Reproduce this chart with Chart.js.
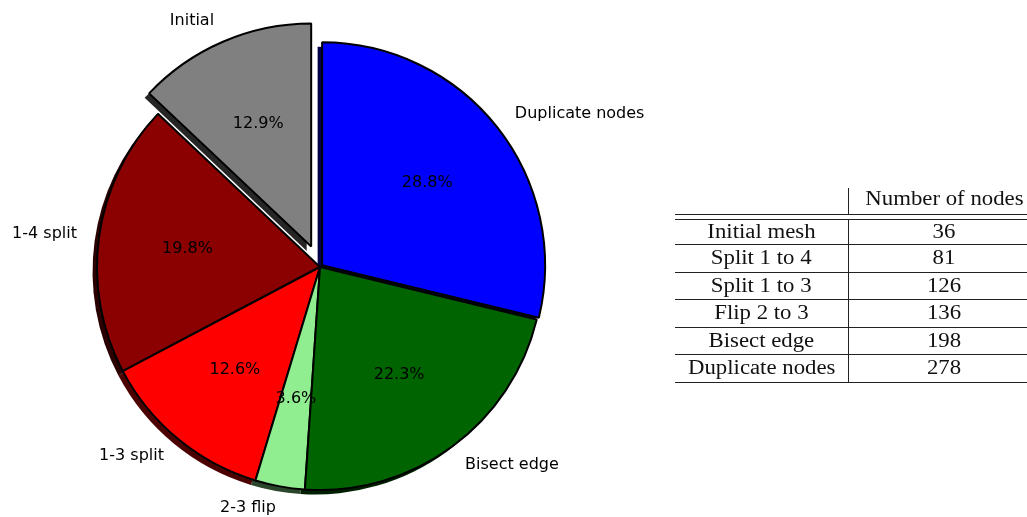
<!DOCTYPE html>
<html>
<head>
<meta charset="utf-8">
<script src="https://cdn.jsdelivr.net/npm/chart.js@4.4.1/dist/chart.umd.min.js"></script>
<style>
  html, body { margin: 0; padding: 0; background: #fff; width: 1027px; height: 517px; overflow: hidden; }
  #pieBox { position: absolute; left: 0; top: 0; width: 1027px; height: 517px; }
  #nodeTable { position: absolute; left: 0; top: 0; width: 1027px; height: 517px; overflow: hidden;
               font-family: "Liberation Serif", serif; color: #111; }
  .rule { position: absolute; height: 1px; background: #222; }
  .vrule { position: absolute; width: 1px; background: #222; }
  .cell { position: absolute; height: 26px; line-height: 26px; text-align: center; font-size: 20px; white-space: nowrap; }
  .cell span { display: inline-block; transform: scaleX(1.14); }
</style>
</head>
<body>
<div id="pieBox"><canvas id="pie"></canvas></div>
<div id="nodeTable"></div>
<script>
// Nodes added by each refinement stage (pie slices, counter-clockwise from 12 o'clock)
const categories = ['Initial', '1-4 split', '1-3 split', '2-3 flip', 'Bisect edge', 'Duplicate nodes'];
const nodeCounts = [36, 55, 35, 10, 62, 80];
const sliceColors = ['#808080', '#8b0000', '#ff0000', '#90ee90', '#006400', '#0000ff'];
const explodeFractions = [0.1, 0, 0, 0, 0, 0.012];

// Cumulative node counts table
const tableHeader = 'Number of nodes';
const tableRows = ['Initial mesh', 'Split 1 to 4', 'Split 1 to 3', 'Flip 2 to 3', 'Bisect edge', 'Duplicate nodes'];
const tableNodes = [36, 81, 126, 136, 198, 278];

// Chart.js sweeps clockwise, so feed the slices in reverse order
const order = categories.map((_, i) => categories.length - 1 - i);
const total = nodeCounts.reduce((a, b) => a + b, 0);

function shadowColor(hex) {
  const n = parseInt(hex.slice(1), 16);
  const r = Math.round(((n >> 16) & 255) * 0.3);
  const g = Math.round(((n >> 8) & 255) * 0.3);
  const b = Math.round((n & 255) * 0.3);
  return `rgb(${r},${g},${b})`;
}

function explodeShift(arc, dist) {
  const mid = (arc.startAngle + arc.endAngle) / 2;
  return [Math.cos(mid) * dist, Math.sin(mid) * dist];
}

const pieDecor = {
  id: 'pieDecor',
  beforeDatasetDraw(chart, args) {
    const ctx = chart.ctx;
    const arcs = args.meta.data;
    const r = arcs[0].outerRadius;
    const sh = 0.02 * r;
    // drop shadows, below every wedge
    arcs.forEach((arc, i) => {
      const k = order[i];
      const [dx, dy] = explodeShift(arc, explodeFractions[k] * r);
      const cx = arc.x + dx - sh, cy = arc.y + dy + sh;
      ctx.save();
      ctx.fillStyle = shadowColor(sliceColors[k]);
      ctx.beginPath();
      ctx.moveTo(cx, cy);
      ctx.arc(cx, cy, arc.outerRadius, arc.startAngle, arc.endAngle);
      ctx.closePath();
      ctx.fill();
      ctx.restore();
    });
    // wedges, pulled out along their mid angle
    for (let i = arcs.length - 1; i >= 0; i--) {
      const arc = arcs[i];
      const [dx, dy] = explodeShift(arc, explodeFractions[order[i]] * r);
      ctx.save();
      ctx.translate(dx, dy);
      arc.draw(ctx);
      ctx.restore();
    }
    return false;
  },
  afterDatasetsDraw(chart) {
    const ctx = chart.ctx;
    const arcs = chart.getDatasetMeta(0).data;
    const r = arcs[0].outerRadius;
    ctx.save();
    ctx.font = '16px "DejaVu Sans"';
    ctx.fillStyle = '#000';
    ctx.textBaseline = 'middle';
    arcs.forEach((arc, i) => {
      const k = order[i];
      const mid = (arc.startAngle + arc.endAngle) / 2;
      const [dx, dy] = explodeShift(arc, explodeFractions[k] * r);
      const cx = arc.x + dx, cy = arc.y + dy;
      // category label outside the rim
      const lx = cx + Math.cos(mid) * r * 1.1;
      const ly = cy + Math.sin(mid) * r * 1.1;
      ctx.textAlign = Math.cos(mid) > 0 ? 'left' : 'right';
      ctx.fillText(categories[k], lx, ly);
      // percentage inside the wedge
      const px = cx + Math.cos(mid) * r * 0.6;
      const py = cy + Math.sin(mid) * r * 0.6;
      ctx.textAlign = 'center';
      ctx.fillText((nodeCounts[k] / total * 100).toFixed(1) + '%', px, py);
    });
    ctx.restore();
  }
};

new Chart(document.getElementById('pie'), {
  type: 'pie',
  data: {
    labels: order.map(k => categories[k]),
    datasets: [{
      data: order.map(k => nodeCounts[k]),
      backgroundColor: order.map(k => sliceColors[k]),
      borderColor: '#000',
      borderWidth: 2
    }]
  },
  options: {
    responsive: true,
    maintainAspectRatio: false,
    animation: false,
    rotation: 0,
    radius: 223,
    layout: { padding: { top: 17, bottom: 0, left: 0, right: 387 } },
    plugins: { legend: { display: false }, tooltip: { enabled: false } },
    events: []
  },
  plugins: [pieDecor]
});

// Table of cumulative node counts
(function buildTable() {
  const host = document.getElementById('nodeTable');
  const left = 675, split = 848, right = 1040;
  const headTop = 188, rule1 = 214, rule2 = 219, rowH = 27.5, firstRule = 244.3;
  function add(cls, css, text) {
    const el = document.createElement('div');
    el.className = cls;
    Object.assign(el.style, css);
    if (text !== undefined) {
      const s = document.createElement('span');
      s.textContent = text;
      el.appendChild(s);
    }
    host.appendChild(el);
  }
  add('vrule', { left: split + 'px', top: headTop + 'px', height: (rule1 - headTop) + 'px' });
  add('cell', { left: split + 'px', width: (right - split) + 'px', top: (198 - 13) + 'px' }, tableHeader);
  add('rule', { left: left + 'px', width: (right - left) + 'px', top: rule1 + 'px' });
  add('rule', { left: left + 'px', width: (right - left) + 'px', top: rule2 + 'px' });
  const lastRule = firstRule + rowH * (tableRows.length - 1);
  add('vrule', { left: split + 'px', top: rule2 + 'px', height: (lastRule - rule2) + 'px' });
  tableRows.forEach((name, i) => {
    const top = i === 0 ? rule2 : firstRule + rowH * (i - 1);
    const bottom = firstRule + rowH * i;
    const mid = (top + bottom) / 2;
    add('cell', { left: left + 'px', width: (split - left) + 'px', top: (mid - 14) + 'px' }, name);
    add('cell', { left: split + 'px', width: (right - split) + 'px', top: (mid - 14) + 'px' }, String(tableNodes[i]));
    add('rule', { left: left + 'px', width: (right - left) + 'px', top: Math.round(bottom) + 'px' });
  });
})();
</script>
</body>
</html>
